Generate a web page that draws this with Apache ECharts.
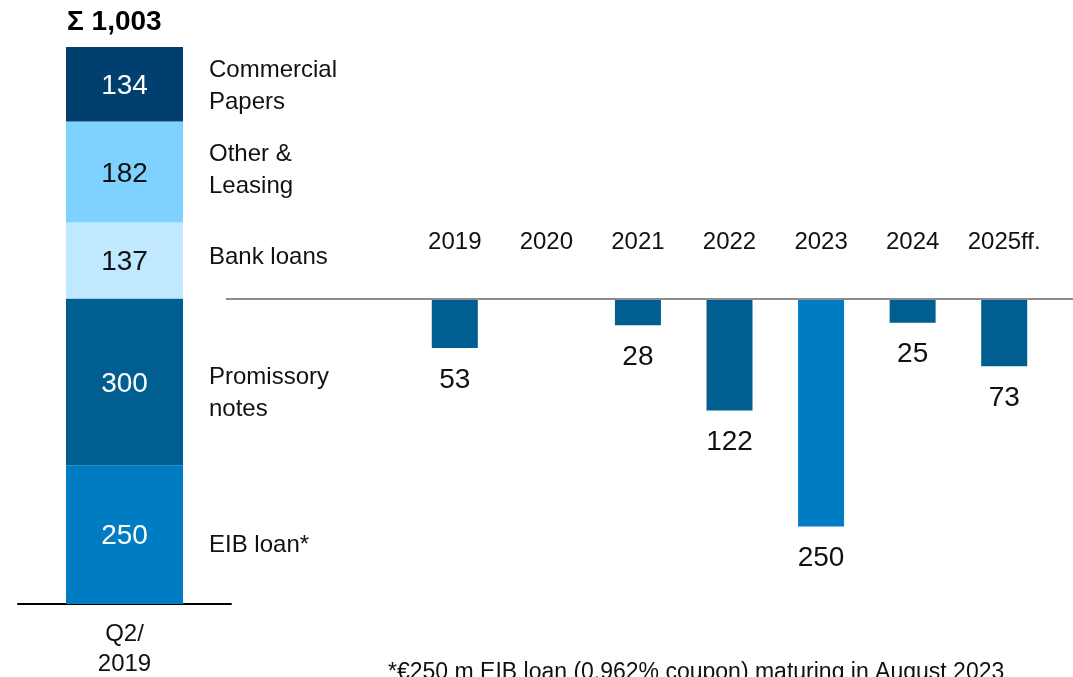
<!DOCTYPE html>
<html>
<head>
<meta charset="utf-8">
<script src="https://cdn.jsdelivr.net/npm/echarts@6/dist/echarts.min.js"></script>
<style>
  html, body { margin: 0; padding: 0; background: #fff; }
  #chart { width: 1073px; height: 677px; }
</style>
</head>
<body>
<div id="chart"></div>
<script>
// Debt structure at Q2/2019 (EUR m), stacked bottom to top
const stackCategory = ['Q2/\n2019'];
const segmentNames = ['EIB loan*', 'Promissory\nnotes', 'Bank loans', 'Other &\nLeasing', 'Commercial\nPapers'];
const segmentValues = [250, 300, 137, 182, 134];

// Maturity profile (EUR m)
const maturityYears = ['2019', '2020', '2021', '2022', '2023', '2024', '2025ff.'];
const maturityValues = [53, null, 28, 122, 250, 25, 73];
const eibMaturityYear = '2023';

const footnote = '*€250 m EIB loan (0.962% coupon) maturing in August 2023';

// Styling
const FONT = 'Liberation Sans, Arial, sans-serif';
const segmentColors = ['#007DC2', '#005E91', '#C0E8FF', '#7FD1FF', '#003F6E'];
const segmentTextColors = ['#ffffff', '#ffffff', '#111111', '#111111', '#ffffff'];
const nameLabelNudge = [[0, 11], [0, 12], [0, -3], [0, -2], [0, 2]];
const maturityColor = '#005E91';
const eibColor = '#007DC2';

const total = segmentValues.reduce((a, b) => a + b, 0);

const chart = echarts.init(document.getElementById('chart'));

const stackSeries = segmentValues.map((v, i) => ({
  type: 'bar',
  name: segmentNames[i],
  xAxisIndex: 0,
  yAxisIndex: 0,
  stack: 'debt',
  barWidth: 117,
  barGap: '-100%',
  silent: true,
  data: [v],
  itemStyle: { color: segmentColors[i] },
  label: {
    show: true,
    position: 'inside',
    color: segmentTextColors[i],
    fontSize: 28,
    fontFamily: FONT,
    offset: [0, 2]
  }
}));

// Transparent twin stack carrying the segment names to the right of the bar
const nameSeries = segmentValues.map((v, i) => ({
  type: 'bar',
  xAxisIndex: 0,
  yAxisIndex: 0,
  stack: 'names',
  barWidth: 117,
  barGap: '-100%',
  silent: true,
  data: [v],
  itemStyle: { color: 'rgba(0,0,0,0)' },
  label: {
    show: true,
    position: 'right',
    distance: 26,
    align: 'left',
    formatter: segmentNames[i],
    color: '#111111',
    fontSize: 24,
    lineHeight: 32,
    fontFamily: FONT,
    offset: nameLabelNudge[i]
  }
}));

const maturitySeries = {
  type: 'bar',
  xAxisIndex: 1,
  yAxisIndex: 1,
  barWidth: 46,
  silent: true,
  data: maturityValues.map((v, i) => ({
    value: v == null ? '-' : v,
    itemStyle: { color: maturityYears[i] === eibMaturityYear ? eibColor : maturityColor }
  })),
  label: {
    show: true,
    position: 'bottom',
    distance: 18,
    color: '#111111',
    fontSize: 28,
    fontFamily: FONT
  }
};

chart.setOption({
  animation: false,
  backgroundColor: '#ffffff',
  title: [
    {
      text: 'Σ ' + total.toLocaleString('en-US'),
      left: 67,
      top: 8,
      padding: 0,
      textStyle: { fontFamily: FONT, fontWeight: 'bold', fontSize: 28, color: '#000000' }
    },
    {
      text: footnote,
      left: 388,
      top: 661,
      padding: 0,
      textStyle: { fontFamily: FONT, fontWeight: 'normal', fontSize: 23, color: '#111111' }
    }
  ],
  grid: [
    { left: 18, width: 213, top: 47, height: 557, outerBoundsMode: 'none', containLabel: false },
    { left: 409, width: 641, top: 300, height: 299, outerBoundsMode: 'none', containLabel: false }
  ],
  xAxis: [
    {
      type: 'category',
      gridIndex: 0,
      data: stackCategory,
      axisLine: { show: true, lineStyle: { color: '#000000', width: 2 } },
      axisTick: { show: false },
      axisLabel: { margin: 15, color: '#111111', fontSize: 24, lineHeight: 30, fontFamily: FONT }
    },
    {
      type: 'category',
      gridIndex: 1,
      position: 'top',
      data: maturityYears,
      axisLine: { show: false },
      axisTick: { show: false },
      axisLabel: { interval: 0, margin: 46, color: '#111111', fontSize: 24, fontFamily: FONT }
    }
  ],
  yAxis: [
    { type: 'value', gridIndex: 0, min: 0, max: total, show: false },
    { type: 'value', gridIndex: 1, min: 0, max: 330, inverse: true, show: false }
  ],
  series: [...stackSeries, ...nameSeries, maturitySeries]
});

// Baseline of the maturity profile, drawn at the zero value of its axis
const zeroY = chart.convertToPixel({ yAxisIndex: 1 }, 0);
chart.setOption({
  graphic: [{
    type: 'line',
    silent: true,
    shape: { x1: 226, y1: zeroY - 1, x2: 1077, y2: zeroY - 1 },
    style: { stroke: '#8C8C8C', lineWidth: 2 }
  }]
});
</script>
</body>
</html>
